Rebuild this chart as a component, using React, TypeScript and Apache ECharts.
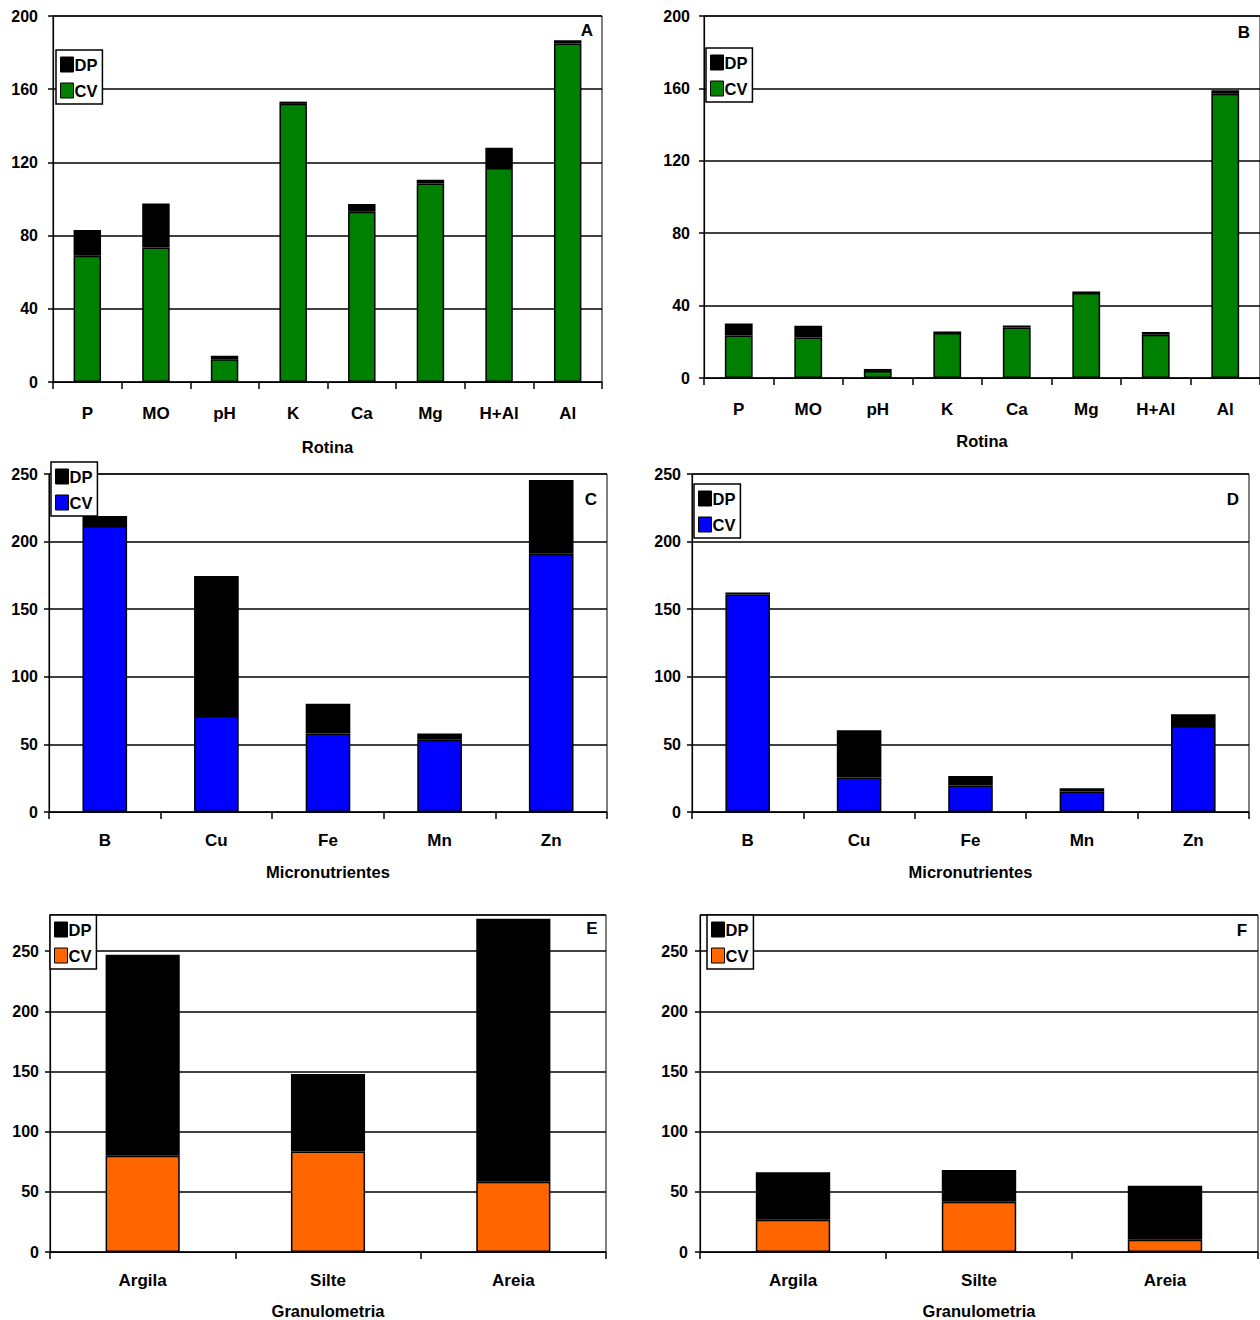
import React, { useEffect, useRef } from "react";
import * as echarts from "echarts";

const rotinaCats = ["P", "MO", "pH", "K", "Ca", "Mg", "H+Al", "Al"];
const aCV = [69, 73.5, 12.5, 152, 93, 108.5, 117, 185];
const aDP = [14, 24, 1.8, 1.2, 4.3, 2, 11, 1.7];
const bCV = [23.5, 22.4, 3.9, 24.8, 27.9, 46.9, 23.9, 157];
const bDP = [6.6, 6.5, 1.1, 0.9, 1.1, 0.9, 1.5, 2];

const microCats = ["B", "Cu", "Fe", "Mn", "Zn"];
const cCV = [211.5, 71, 58, 53.5, 191];
const cDP = [7.5, 103.5, 22, 4.5, 54.5];
const dCV = [160.8, 25.5, 19.6, 15.2, 63.7];
const dDP = [1.5, 35, 7, 2.4, 8.6];

const granCats = ["Argila", "Silte", "Areia"];
const eCV = [80, 83.5, 58.3];
const eDP = [167, 64.3, 218.5];
const fCV = [26.8, 41.7, 10.2];
const fDP = [39.5, 26.5, 44.8];

const FONT = "'Liberation Sans', Arial, sans-serif";

type Panel = {
  letter: string;
  cats: string[];
  cv: number[];
  dp: number[];
  color: string;
  axisName: string;
  max: number;
  interval: number;
  grid: { left: number; top: number; width: number; height: number };
  legend: { left: number; top: number };
  letterPos: [number, number];
  labelMargin: number;
  nameGap: number;
  yMargin: number;
};

const panels: Panel[] = [
  {
    letter: "A", cats: rotinaCats, cv: aCV, dp: aDP, color: "#008000", axisName: "Rotina",
    max: 200, interval: 40,
    grid: { left: 53, top: 16, width: 549, height: 366 },
    legend: { left: 56, top: 50 }, letterPos: [587, 30], labelMargin: 23, nameGap: 56, yMargin: 15,
  },
  {
    letter: "B", cats: rotinaCats, cv: bCV, dp: bDP, color: "#008000", axisName: "Rotina",
    max: 200, interval: 40,
    grid: { left: 704, top: 16, width: 556, height: 362 },
    legend: { left: 706, top: 48 }, letterPos: [1244, 32], labelMargin: 23, nameGap: 54, yMargin: 14,
  },
  {
    letter: "C", cats: microCats, cv: cCV, dp: cDP, color: "#0000FF", axisName: "Micronutrientes",
    max: 250, interval: 50,
    grid: { left: 49, top: 474, width: 558, height: 338 },
    legend: { left: 51, top: 462 }, letterPos: [591, 499], labelMargin: 20, nameGap: 51, yMargin: 11,
  },
  {
    letter: "D", cats: microCats, cv: dCV, dp: dDP, color: "#0000FF", axisName: "Micronutrientes",
    max: 250, interval: 50,
    grid: { left: 692, top: 474, width: 557, height: 338 },
    legend: { left: 694, top: 484 }, letterPos: [1233, 499], labelMargin: 20, nameGap: 51, yMargin: 11,
  },
  {
    letter: "E", cats: granCats, cv: eCV, dp: eDP, color: "#FF6600", axisName: "Granulometria",
    max: 280, interval: 50,
    grid: { left: 50, top: 915, width: 556, height: 337 },
    legend: { left: 50, top: 915 }, letterPos: [592, 928], labelMargin: 20, nameGap: 50, yMargin: 11,
  },
  {
    letter: "F", cats: granCats, cv: fCV, dp: fDP, color: "#FF6600", axisName: "Granulometria",
    max: 280, interval: 50,
    grid: { left: 700, top: 915, width: 558, height: 337 },
    legend: { left: 707, top: 915 }, letterPos: [1242, 930], labelMargin: 20, nameGap: 50, yMargin: 12,
  },
];

export default function App() {
  const ref = useRef<HTMLDivElement>(null);
  useEffect(() => {
    if (!ref.current) return;
    const chart = echarts.init(ref.current, undefined, { renderer: "svg" });
    const grids: any[] = [];
    const xAxes: any[] = [];
    const yAxes: any[] = [];
    const legends: any[] = [];
    const series: any[] = [];
    const graphics: any[] = [];
    panels.forEach((p, i) => {
      grids.push({ ...p.grid, show: true, borderColor: "#000", borderWidth: 1, backgroundColor: "transparent" });
      xAxes.push({
        type: "category", gridIndex: i, data: p.cats, boundaryGap: true,
        name: p.axisName, nameLocation: "middle", nameGap: p.nameGap,
        nameTextStyle: { fontFamily: FONT, fontWeight: "bold", fontSize: 16.5, color: "#000" },
        axisLine: { show: true, lineStyle: { color: "#000", width: 1.2 } },
        axisTick: { show: true, length: 7, alignWithLabel: false, lineStyle: { color: "#000", width: 1.5 } },
        axisLabel: { interval: 0, margin: p.labelMargin, fontFamily: FONT, fontWeight: "bold", fontSize: 17, color: "#000" },
        splitLine: { show: false },
      });
      yAxes.push({
        type: "value", gridIndex: i, min: 0, max: p.max, interval: p.interval,
        axisLine: { show: true, lineStyle: { color: "#000", width: 1.2 } },
        axisTick: { show: true, length: 5, lineStyle: { color: "#000", width: 1.5 } },
        axisLabel: { margin: p.yMargin, fontFamily: FONT, fontWeight: "bold", fontSize: 16, color: "#000", showMaxLabel: p.max === 280 ? false : true },
        splitLine: { show: true, lineStyle: { color: "#000", width: 1.5 } },
      });
      legends.push({
        orient: "vertical", left: p.legend.left, top: p.legend.top,
        data: [
          { name: "DP", itemStyle: { color: "#000000", borderColor: "#000", borderWidth: 1 } },
          { name: "CV", itemStyle: { color: p.color, borderColor: "#000", borderWidth: 1 } },
        ],
        icon: "rect", itemWidth: 13, itemHeight: 15, itemGap: 9,
        padding: [6, 5, 5, 4],
        borderColor: "#000", borderWidth: 1.5, backgroundColor: "#fff",
        selectedMode: false,
        textStyle: { fontFamily: FONT, fontWeight: "bold", fontSize: 16.5, color: "#000", padding: [0, 0, 0, -4] },
      });
      series.push({
        name: "CV", type: "bar", stack: "s" + i, xAxisIndex: i, yAxisIndex: i,
        data: p.cv, barWidth: "40%",
        itemStyle: { color: p.color, borderColor: "#000", borderWidth: 1.5 },
      });
      series.push({
        name: "DP", type: "bar", stack: "s" + i, xAxisIndex: i, yAxisIndex: i,
        data: p.dp, barWidth: "40%",
        itemStyle: { color: "#000", borderColor: "#000", borderWidth: 1.5 },
      });
      graphics.push({
        type: "text", x: p.letterPos[0], y: p.letterPos[1], z: 10,
        style: { text: p.letter, fontFamily: FONT, fontWeight: "bold", fontSize: 17, fill: "#000", align: "center", verticalAlign: "middle" },
      });
    });
    chart.setOption({
      animation: false,
      backgroundColor: "#fff",
      grid: grids,
      xAxis: xAxes,
      yAxis: yAxes,
      legend: legends,
      series,
      graphic: graphics,
    });
    return () => chart.dispose();
  }, []);
  return <div ref={ref} style={{ position: "absolute", left: 0, top: 0, width: 1260, height: 1320 }} />;
}
